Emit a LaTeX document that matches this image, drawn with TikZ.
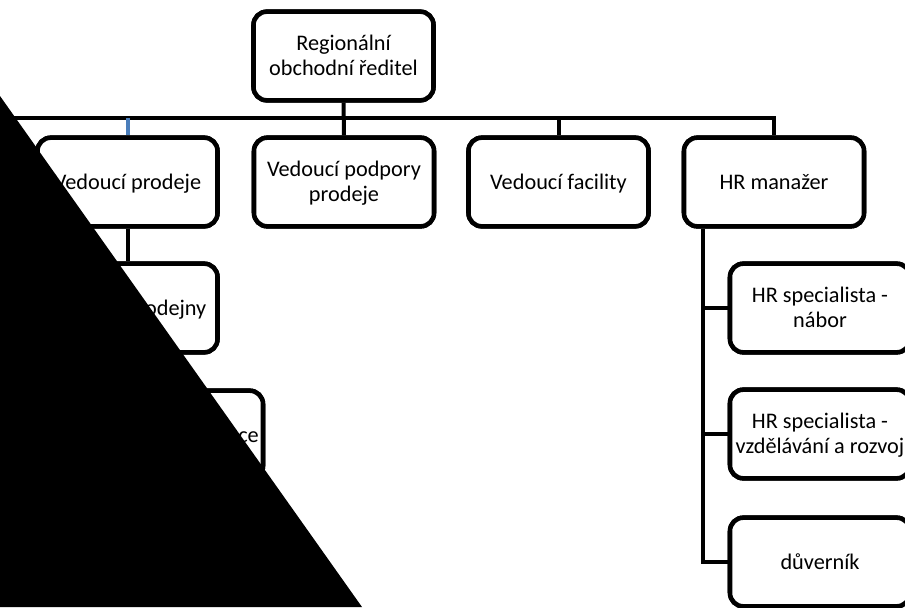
\documentclass[tikz,border=0pt]{standalone}
\usepackage{fontspec}
\setmainfont{Carlito}
\newcommand{\topstrutx}{\rule{0pt}{16.4pt}}
\begin{document}
\begin{tikzpicture}[x=0.75pt,y=-0.75pt,
  orgbox/.style={draw=black, line width=3.4pt, rounded corners=10pt, fill=white,
    minimum width=135pt, minimum height=66.5pt, inner sep=0pt, align=center,
    font=\fontsize{16.7}{19.2}\selectfont},
  link/.style={draw=black, line width=3pt},
  bluelink/.style={draw={rgb,255:red,74;green,126;blue,187}, line width=3pt}]
\useasboundingbox (0,0) rectangle (905,607);
\clip (0,0) rectangle (905,607);
% nodes
\node[orgbox] (root) at (343.5,56) {\topstrutx\strut Regionální\\\strut obchodní ředitel};
\node[orgbox] (prodeje) at (127.5,182) {\topstrutx\strut Vedoucí prodeje};
\node[orgbox] (podpora) at (344,182) {\topstrutx\strut Vedoucí podpory\\\strut prodeje};
\node[orgbox] (facility) at (558.5,182) {\topstrutx\strut Vedoucí facility};
\node[orgbox] (hr) at (774,182) {\topstrutx\strut HR manažer};
\node[orgbox] (prodejny) at (127.5,308) {\topstrutx\strut Vedoucí prodejny};
\node[orgbox] (zastupce) at (173,435) {\topstrutx\strut Obchodní zástupce};
\node[orgbox] (hra) at (820,308) {\topstrutx\strut HR specialista -\\\strut nábor};
\node[orgbox] (hrb) at (820,434) {\topstrutx\strut HR specialista -\\\strut vzdělávání a rozvoj};
\node[orgbox] (hrc) at (820,562) {\topstrutx\strut důverník};
\coordinate (busL) at (0,118);
\coordinate (sp) at (703,0);
% connectors
\path[link] (root.south) -- (podpora.north);
\path[link] (busL) -- (busL -| hr.north) -- (hr.north);
\path[link] (facility.north) -- (facility.north |- busL);
\path[bluelink] (prodeje.north) -- (prodeje.north |- busL);
\path[link] (prodeje.south) -- (prodejny.north);
\path[link] (prodejny.south) -- (prodejny.south |- zastupce.north);
\path[link] (hr.south -| sp) -- (hrc.west -| sp) -- (hrc.west);
\path[link] (hra.west -| sp) -- (hra.west);
\path[link] (hrb.west -| sp) -- (hrb.west);
% redraw boxes over connectors
\foreach \n/\t in {root/{\topstrutx\strut Regionální\\\strut obchodní ředitel},prodeje/{\topstrutx\strut Vedoucí prodeje},podpora/{\topstrutx\strut Vedoucí podpory\\\strut prodeje},facility/{\topstrutx\strut Vedoucí facility},hr/{\topstrutx\strut HR manažer},prodejny/{\topstrutx\strut Vedoucí prodejny},zastupce/{\topstrutx\strut Obchodní zástupce},hra/{\topstrutx\strut HR specialista -\\\strut nábor},hrb/{\topstrutx\strut HR specialista -\\\strut vzdělávání a rozvoj},hrc/{\topstrutx\strut důverník}}
  {\node[orgbox] at (\n) {\t};}
% black overlay
\fill[black] (0,96) -- (0,607) -- (362,607) -- cycle;
\end{tikzpicture}
\end{document}
